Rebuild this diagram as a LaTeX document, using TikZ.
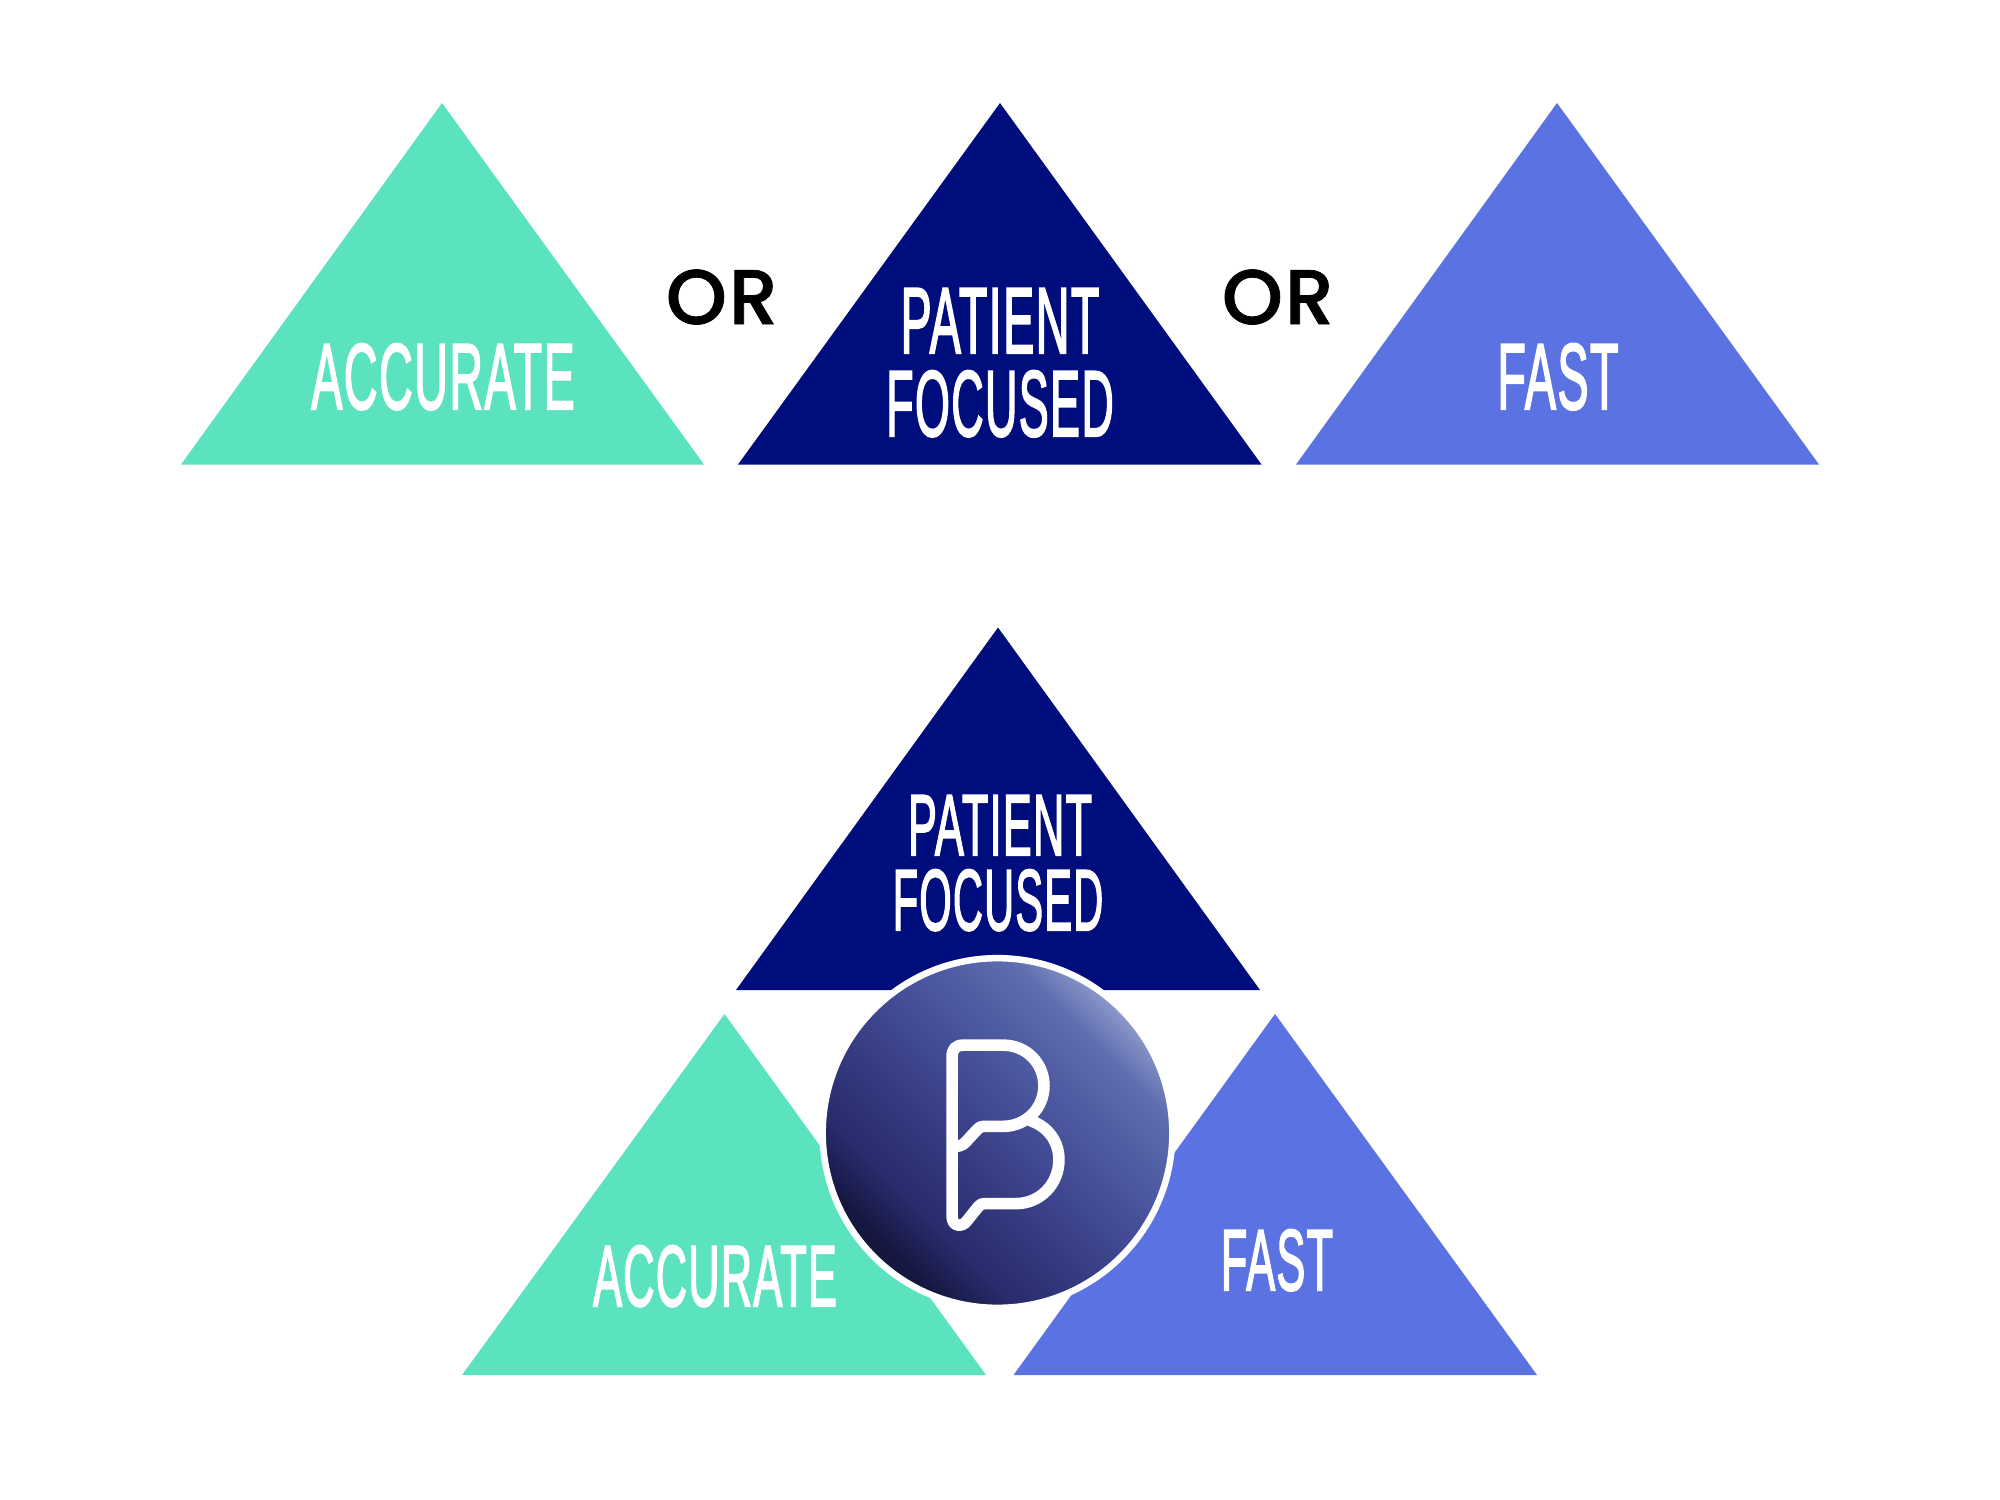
\documentclass[tikz,border=0pt]{standalone}
\usepackage{xcolor}
\usepackage{fontspec}
\usepackage{tikz}
\newfontfamily\bannerfont{Liberation Sans}[LetterSpace=3,FakeBold=2.5]
\newfontfamily\orfont{Poppins Medium}[LetterSpace=3,FakeBold=1]
\definecolor{mint}{HTML}{5BE3BF}
\definecolor{navy}{HTML}{000E7D}
\definecolor{cornflower}{HTML}{5B72E3}
\definecolor{glow0}{HTML}{15173F}
\definecolor{glow1}{HTML}{282B6C}
\definecolor{glow2}{HTML}{3E468F}
\definecolor{glow3}{HTML}{5260A6}
\definecolor{glow4}{HTML}{5F6DB0}
\definecolor{glow5}{HTML}{8D9AC9}
\pgfdeclareverticalshading{discglow}{100bp}{
    color(0bp)=(glow0); color(27bp)=(glow0); color(34bp)=(glow1); color(50bp)=(glow2);
    color(63bp)=(glow3); color(69bp)=(glow4); color(75bp)=(glow5); color(100bp)=(glow5)
}

\begin{document}
\begin{tikzpicture}[
        x=0.01cm, y=-0.01cm,
        banner/.style={text=white, anchor=base, inner sep=0pt, xscale=0.5, font=\bannerfont\fontsize{26.6}{30}\selectfont},
        smallbanner/.style={banner, font=\bannerfont\fontsize{24.6}{28}\selectfont},
        orword/.style={text=black, anchor=base, inner sep=0pt, font=\orfont\fontsize{22}{24}\selectfont},
        disc/.style={
            circle, minimum size=3.495cm, inner sep=0pt, outer sep=0pt,
            draw=white, line width=1.85pt, shade, shading=discglow, shading angle=-45
        },
        logoline/.style={draw=white, line width=3.3pt, line join=round},
        ]
        \useasboundingbox (0,0) rectangle (2000,1500);

        % top row
        \fill[mint] (442,103) -- (181,464.5) -- (704,464.5) -- cycle;
        \fill[navy] (1000,103) -- (738,464.5) -- (1261.5,464.5) -- cycle;
        \fill[cornflower] (1557,103) -- (1296,464.5) -- (1819,464.5) -- cycle;

        \node[banner] (accurateTop) at (443,409) {ACCURATE};
        \node[banner] (patientTop) at (1000,353) {PATIENT};
        \node[banner, xscale=0.96] (focusedTop) at (1000,436) {FOCUSED};
        \node[banner] (fastTop) at (1558,409) {FAST};
        \node[orword] (orLeft) at (722,324) {OR};
        \node[orword] (orRight) at (1278,324) {OR};

        % bottom group
        \fill[navy] (998,627.5) -- (736,990) -- (1260,990) -- cycle;
        \fill[mint] (724.5,1014) -- (462,1375) -- (986,1375) -- cycle;
        \fill[cornflower] (1275,1014) -- (1013.5,1375) -- (1537,1375) -- cycle;

        \node[disc] (logoDisc) at (997.5,1133) {};

        \node[smallbanner] (patientLow) at (1000,855) {PATIENT};
        \node[smallbanner, xscale=0.96] (focusedLow) at (998,930) {FOCUSED};
        \node[smallbanner] (accurateLow) at (715,1306) {ACCURATE};
        \node[smallbanner] (fastLow) at (1277,1290) {FAST};

        % the B mark, read off a 3x crop
        \begin{scope}[shift={(800,930)}, x=0.00333cm, y=-0.00333cm]
            \draw[logoline] (610,346) .. controls (680,346) and (733,400) .. (733,468)
                .. controls (733,535) and (680,590) .. (610,590) -- (552,590)
                .. controls (542,590) and (537,594) .. (532,600) -- (497,638)
                .. controls (488,648) and (472,652) .. (457,650);
            \draw[logoline] (690,572) .. controls (745,590) and (778,635) .. (778,690)
                .. controls (778,765) and (720,822) .. (650,822) -- (555,822)
                .. controls (546,822) and (541,825) .. (536,831) -- (503,872)
                .. controls (488,895) and (457,892) .. (457,860) -- (457,380)
                .. controls (457,358) and (468,346) .. (490,346) -- (610,346);
        \end{scope}
    \end{tikzpicture}
\end{document}
